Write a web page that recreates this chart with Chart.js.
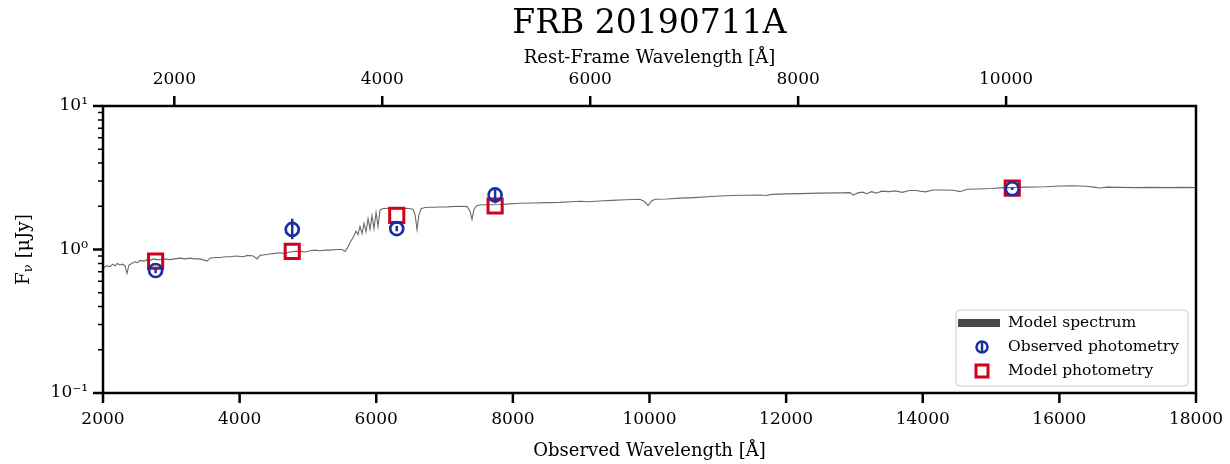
<!DOCTYPE html>
<html><head><meta charset="utf-8">
<script src="https://cdn.jsdelivr.net/npm/chart.js@4.4.0/dist/chart.umd.min.js"></script>
<style>html,body{margin:0;padding:0;background:#fff;}#wrap{width:1230px;height:464px;}</style>
</head><body><div id="wrap"><canvas id="c" width="1230" height="464"></canvas></div>
<script>
const chartTitle = 'FRB 20190711A';
const redshift = 0.522;
const xTitle = 'Observed Wavelength [Å]';
const xTopTitle = 'Rest-Frame Wavelength [Å]';
const specWave = [2000,2050,2102,2140,2176,2210,2249,2290,2322,2351,2380,2420,2468,2505,2542,2600,2650,2688,2740,2790,2834,2900,2981,3050,3127,3200,3274,3340,3420,3523,3566,3640,3713,3790,3859,3950,4050,4120,4200,4254,4300,4370,4445,4520,4591,4660,4738,4810,4884,4960,5030,5100,5177,5250,5323,5420,5500,5543,5590,5616,5660,5704,5733,5762,5792,5821,5850,5880,5909,5938,5967,5997,6026,6055,6099,6150,6202,6280,6348,6420,6494,6540,6568,6597,6625,6660,6720,6787,6860,6934,7020,7100,7226,7330,7373,7402,7430,7470,7519,7600,7700,7812,7950,8105,8300,8500,8690,8850,9000,9100,9276,9450,9650,9862,9930,9979,10030,10081,10250,10447,10650,10850,11033,11200,11400,11618,11700,11800,12000,12204,12500,12800,12936,12980,13050,13120,13180,13250,13320,13400,13500,13600,13700,13800,13900,14034,14150,14300,14450,14546,14650,14800,15000,15132,15300,15500,15800,16010,16200,16400,16500,16596,16700,16900,17100,17328,17600,17800,18000];
const specFlux = [0.74,0.77,0.76,0.79,0.77,0.80,0.78,0.79,0.77,0.68,0.78,0.80,0.82,0.81,0.84,0.83,0.85,0.84,0.86,0.85,0.85,0.86,0.85,0.86,0.87,0.86,0.87,0.86,0.86,0.83,0.87,0.88,0.88,0.89,0.89,0.90,0.89,0.91,0.90,0.86,0.91,0.92,0.93,0.94,0.95,0.94,0.96,0.97,0.97,0.96,0.98,0.99,0.98,0.99,0.99,1.00,1.00,0.97,1.05,1.12,1.21,1.34,1.27,1.45,1.29,1.52,1.33,1.64,1.38,1.72,1.40,1.81,1.45,1.88,1.93,1.94,1.92,1.93,1.92,1.94,1.93,1.90,1.75,1.38,1.75,1.93,1.96,1.97,1.97,1.98,1.98,1.99,2.00,1.99,1.85,1.62,1.90,2.02,2.04,2.05,2.05,2.06,2.08,2.10,2.11,2.12,2.13,2.15,2.17,2.15,2.18,2.20,2.22,2.24,2.15,2.02,2.18,2.24,2.25,2.28,2.30,2.33,2.36,2.38,2.39,2.40,2.38,2.42,2.44,2.45,2.47,2.48,2.49,2.39,2.48,2.51,2.45,2.53,2.47,2.55,2.53,2.56,2.50,2.58,2.58,2.52,2.60,2.60,2.59,2.53,2.63,2.64,2.66,2.69,2.70,2.72,2.74,2.77,2.78,2.76,2.72,2.68,2.72,2.71,2.70,2.71,2.70,2.71,2.70];
const photWave = [2770, 4770, 6300, 7740, 15310];
const obsFlux = [0.714, 1.38, 1.40, 2.40, 2.65];
const obsErrLow = [0.03, 0.20, 0.06, 0.30, 0.05];
const obsErrHigh = [0.03, 0.26, 0.06, 0.20, 0.05];
const modelFlux = [0.83, 0.97, 1.73, 2.01, 2.68];
const xTicks = [2000,4000,6000,8000,10000,12000,14000,16000,18000];
const restTicks = [2000,4000,6000,8000,10000];
const yTicks = [0.1, 1, 10];
const yTickLabels = ['10⁻¹', '10⁰', '10¹'];
const yMinorTicks = [0.2,0.3,0.4,0.5,0.6,0.7,0.8,0.9,2,3,4,5,6,7,8,9];
const seriesLabels = ['Observed photometry', 'Model photometry', 'Model spectrum'];

const BLUE = '#1c2ea6', RED = '#d0021b', GRAY = 'rgba(80,80,80,0.85)';
const FONT = "'DejaVu Serif', serif";
Chart.defaults.font.family = FONT;
Chart.defaults.color = '#000';

const zip = (xs, ys) => xs.map((x, i) => ({x, y: ys[i]}));

const customDraw = {
  id: 'customDraw',
  afterDatasetsDraw(chart) {
    const ctx = chart.ctx, x = chart.scales.x, y = chart.scales.y;
    ctx.save();
    ctx.strokeStyle = BLUE; ctx.lineWidth = 2.5;
    photWave.forEach((w, i) => {
      const px = x.getPixelForValue(w);
      ctx.beginPath();
      ctx.moveTo(px, y.getPixelForValue(obsFlux[i] - obsErrLow[i]));
      ctx.lineTo(px, y.getPixelForValue(obsFlux[i] + obsErrHigh[i]));
      ctx.stroke();
    });
    ctx.restore();
  },
  afterDraw(chart) {
    const ctx = chart.ctx, ca = chart.chartArea;
    const x = chart.scales.x, xt = chart.scales.xTop, y = chart.scales.y;
    ctx.save();
    ctx.strokeStyle = '#000';
    ctx.lineWidth = 2.5;
    ctx.strokeRect(ca.left, ca.top, ca.right - ca.left, ca.bottom - ca.top);
    ctx.lineWidth = 2.5;
    ctx.beginPath();
    xTicks.forEach(v => { const p = x.getPixelForValue(v); ctx.moveTo(p, ca.bottom); ctx.lineTo(p, ca.bottom + 10); });
    restTicks.forEach(v => { const p = xt.getPixelForValue(v); ctx.moveTo(p, ca.top); ctx.lineTo(p, ca.top - 10); });
    yTicks.forEach(v => { const p = y.getPixelForValue(v); ctx.moveTo(ca.left - 10, p); ctx.lineTo(ca.left, p); });
    ctx.stroke();
    ctx.lineWidth = 1.5;
    ctx.beginPath();
    yMinorTicks.forEach(v => { const p = y.getPixelForValue(v); ctx.moveTo(ca.left - 5, p); ctx.lineTo(ca.left, p); });
    ctx.stroke();

    // y-axis title with subscript
    ctx.save();
    ctx.translate(24, (ca.top + ca.bottom) / 2);
    ctx.rotate(-Math.PI / 2);
    ctx.fillStyle = '#000';
    ctx.textBaseline = 'middle';
    const big = '18.5px ' + FONT, small = '13px ' + FONT;
    ctx.font = big; const wF = ctx.measureText('F').width; const wR = ctx.measureText(' [μJy]').width;
    ctx.font = small; const wN = ctx.measureText('ν').width;
    let sx = -(wF + wN + wR) / 2;
    ctx.font = big; ctx.textAlign = 'left'; ctx.fillText('F', sx, 0);
    ctx.font = small; ctx.fillText('ν', sx + wF, 5);
    ctx.font = big; ctx.fillText(' [μJy]', sx + wF + wN, 0);
    ctx.restore();

    // legend
    const lx = ca.right - 240, ly = ca.bottom - 83, lw = 232, lh = 76;
    ctx.beginPath();
    ctx.roundRect(lx, ly, lw, lh, 4);
    ctx.fillStyle = 'rgba(255,255,255,0.85)';
    ctx.fill();
    ctx.strokeStyle = '#cccccc'; ctx.lineWidth = 1; ctx.stroke();
    const rows = [ly + 13, ly + 37, ly + 61];
    const mx = lx + 26, tx = lx + 52;
    ctx.fillStyle = '#4a4a4a';
    ctx.fillRect(lx + 2, rows[0] - 4, 42, 8);
    ctx.strokeStyle = BLUE; ctx.lineWidth = 2.5;
    ctx.beginPath(); ctx.arc(mx, rows[1], 5.5, 0, Math.PI * 2); ctx.stroke();
    ctx.beginPath(); ctx.moveTo(mx, rows[1] - 5.5); ctx.lineTo(mx, rows[1] + 5.5); ctx.stroke();
    ctx.strokeStyle = RED; ctx.lineWidth = 3;
    ctx.strokeRect(mx - 6, rows[2] - 6, 12, 12);
    ctx.fillStyle = '#000'; ctx.font = '15.5px ' + FONT; ctx.textAlign = 'left'; ctx.textBaseline = 'middle';
    ctx.fillText(seriesLabels[2], tx, rows[0]);
    ctx.fillText(seriesLabels[0], tx, rows[1]);
    ctx.fillText(seriesLabels[1], tx, rows[2]);
    ctx.restore();
  }
};

const hiddenGrid = {display: true, drawOnChartArea: false, drawTicks: true, tickLength: 10, color: 'rgba(0,0,0,0)'};

new Chart(document.getElementById('c'), {
  type: 'scatter',
  data: {
    datasets: [
      {label: seriesLabels[0], data: zip(photWave, obsFlux), pointStyle: 'circle', pointRadius: 6.5, pointHoverRadius: 6.5,
       borderColor: BLUE, backgroundColor: 'rgba(0,0,0,0)', borderWidth: 2.7, xAxisID: 'x', yAxisID: 'y'},
      {label: seriesLabels[1], data: zip(photWave, modelFlux), pointStyle: 'rect', pointRadius: 10, pointHoverRadius: 10,
       borderColor: RED, backgroundColor: 'rgba(0,0,0,0)', borderWidth: 3, xAxisID: 'x', yAxisID: 'y'},
      {label: seriesLabels[2], data: zip(specWave, specFlux), showLine: true, pointRadius: 0, pointHoverRadius: 0,
       borderColor: GRAY, borderWidth: 1.1, tension: 0, xAxisID: 'x', yAxisID: 'y'}
    ]
  },
  options: {
    responsive: false, animation: false, devicePixelRatio: 1,
    layout: {padding: {left: 0, right: 34, top: 0, bottom: 0}},
    plugins: {
      legend: {display: false}, tooltip: {enabled: false},
      title: {display: true, fullSize: false, text: chartTitle, font: {size: 33, weight: 'normal', family: FONT}, color: '#000', padding: {top: 5, bottom: 0}}
    },
    scales: {
      x: {type: 'linear', position: 'bottom', min: 2000, max: 18000,
          grid: hiddenGrid, border: {display: false},
          ticks: {font: {size: 17}, padding: 6, maxRotation: 0, callback: v => String(v)},
          afterBuildTicks: s => { s.ticks = xTicks.map(v => ({value: v})); },
          afterFit: s => { s.height = 71; },
          title: {display: true, text: xTitle, font: {size: 18}, padding: {top: 0, bottom: 2}}},
      xTop: {type: 'linear', position: 'top', min: 2000 / (1 + redshift), max: 18000 / (1 + redshift),
          grid: hiddenGrid, border: {display: false},
          ticks: {font: {size: 17}, padding: 6, maxRotation: 0, callback: v => String(v)},
          afterBuildTicks: s => { s.ticks = restTicks.map(v => ({value: v})); },
          afterFit: s => { s.height = 106 - (33 * 1.2 + 5); },
          title: {display: true, text: xTopTitle, font: {size: 18}, padding: {top: 3, bottom: 0}}},
      y: {type: 'logarithmic', position: 'left', min: 0.1, max: 10,
          grid: hiddenGrid, border: {display: false},
          ticks: {font: {size: 17}, padding: 5, callback: (v) => { const i = yTicks.findIndex(t => Math.abs(t - v) < 1e-9); return i >= 0 ? yTickLabels[i] : ''; }},
          afterBuildTicks: s => { s.ticks = yTicks.map(v => ({value: v})); },
          afterFit: s => { s.width = 103; }}
    }
  },
  plugins: [customDraw]
});
</script></body></html>
